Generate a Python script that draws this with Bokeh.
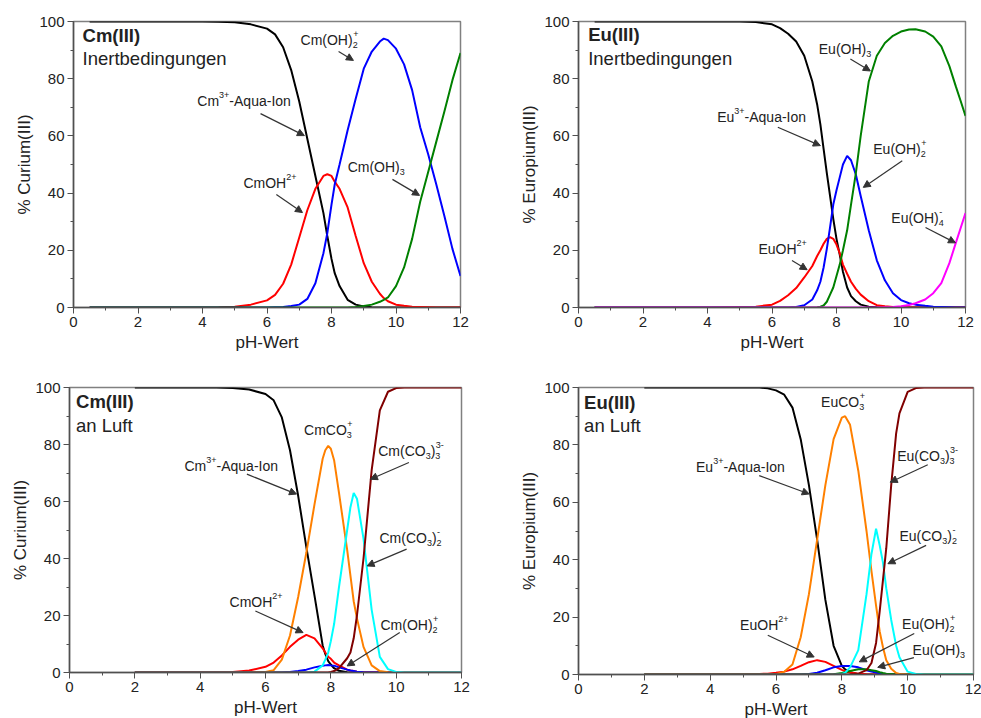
from bokeh.plotting import figure
from bokeh.layouts import column, row
from bokeh.models import Label, Arrow, NormalHead, SingleIntervalTicker
from bokeh.embed import file_html
from bokeh.resources import INLINE

FONT = "Liberation Sans"

# ---------------- data ----------------
# Panel 1: Cm(III), Inertbedingungen
ph_cm_inert = [0.5, 1, 2, 3, 4, 4.5, 5, 5.5, 6, 6.25, 6.5, 6.75, 7, 7.25, 7.5, 7.75, 7.87, 8, 8.1, 8.25,
               8.5, 8.75, 9, 9.25, 9.5, 9.62, 9.75, 10, 10.25, 10.5, 10.75, 11, 11.25, 11.5, 11.75, 12]
cm_inert_aqua = [100, 100, 100, 100, 100, 99.9, 99.7, 99, 97.5, 95.5, 91, 83, 72, 59, 46, 33, 25, 17, 12, 7.5,
                 2.7, 1, 0.4, 0.1, 0, 0, 0, 0, 0, 0, 0, 0, 0, 0, 0, 0]
cm_inert_oh = [0, 0, 0, 0, 0, 0.1, 0.3, 1, 2.5, 4.4, 8.3, 15, 24.5, 34, 41.5, 46, 46.6, 46, 44, 41.5,
               35, 25, 15.5, 9, 4.8, 3.3, 2.2, 1, 0.6, 0.3, 0.2, 0.1, 0, 0, 0, 0]
cm_inert_oh2 = [0, 0, 0, 0, 0, 0, 0, 0, 0, 0.1, 0.2, 0.5, 1, 3, 8.5, 19, 26, 36, 43, 50,
                62, 73, 83.5, 89.5, 93, 94, 93.5, 90.5, 85, 76, 63, 53.5, 43, 32, 20.5, 11]
cm_inert_oh3 = [0, 0, 0, 0, 0, 0, 0, 0, 0, 0, 0, 0, 0, 0, 0, 0, 0, 0, 0, 0,
                0, 0.2, 0.5, 1, 2, 2.7, 3.5, 7.5, 14, 24, 37, 47.5, 58, 68.5, 79.5, 89]

# Panel 2: Eu(III), Inertbedingungen
ph_eu_inert = [0.5, 1, 2, 3, 4, 5, 5.5, 6, 6.25, 6.5, 6.75, 7, 7.25, 7.4, 7.5, 7.6, 7.7, 7.8, 7.9, 8,
               8.1, 8.2, 8.33, 8.45, 8.6, 8.75, 9, 9.25, 9.5, 9.75, 10, 10.25, 10.45, 10.75, 11, 11.25,
               11.5, 11.7, 11.85, 12]
eu_inert_aqua = [100, 100, 100, 100, 100, 100, 99.8, 99, 97.7, 95.7, 93, 88, 79, 71, 64, 55.5, 47, 39, 31, 24,
                 18.5, 12.5, 7, 4, 2.2, 1, 0.3, 0.1, 0, 0, 0, 0, 0, 0, 0, 0,
                 0, 0, 0, 0]
eu_inert_oh = [0, 0, 0, 0, 0, 0.2, 0.3, 1, 2.3, 4.3, 6.8, 10.5, 14.5, 18, 20, 22.3, 24, 24.6, 24, 22,
               19, 15, 11.8, 9, 6.5, 4.5, 2.2, 0.8, 0.4, 0.2, 0.1, 0, 0, 0, 0, 0,
               0, 0, 0, 0]
eu_inert_oh2 = [0, 0, 0, 0, 0, 0, 0, 0, 0, 0, 0.2, 0.8, 2.8, 6, 9, 14, 20.5, 28, 36, 41,
                45.5, 50, 53, 51.5, 46.5, 39, 27, 16.5, 9.5, 5, 2.6, 1.5, 1, 0.6, 0.3, 0.2,
                0.1, 0, 0, 0]
eu_inert_oh3 = [0, 0, 0, 0, 0, 0, 0, 0, 0, 0, 0, 0, 0, 0.1, 0.3, 0.7, 2, 4.5, 7, 11,
                15, 20, 27, 36, 47, 60, 79, 88, 92.5, 95, 96.5, 97.2, 97.3, 96.5, 94.7, 91.3,
                84.4, 77.3, 72.2, 67]
eu_inert_oh4 = [0, 0, 0, 0, 0, 0, 0, 0, 0, 0, 0, 0, 0, 0, 0, 0, 0, 0, 0, 0,
                0, 0, 0, 0, 0, 0, 0, 0, 0.1, 0.2, 0.4, 0.9, 1.5, 2.8, 5, 8.5,
                15.5, 22.6, 27.8, 33]

# Panel 3: Cm(III), an Luft
ph_cm_air = [2, 3, 4, 4.5, 5, 5.5, 6, 6.25, 6.5, 6.75, 7, 7.25, 7.5, 7.75, 7.83, 7.92, 8, 8.1, 8.25, 8.5,
             8.6, 8.7, 8.8, 9, 9.25, 9.5, 9.75, 10, 10.25, 10.5, 11, 12]
cm_air_aqua = [100, 100, 100, 100, 99.8, 99.3, 97.7, 95.5, 89.5, 78, 62, 44, 27, 9.5, 6.5, 4, 2.8, 1.5, 0.6, 0.1,
               0, 0, 0, 0, 0, 0, 0, 0, 0, 0, 0, 0]
cm_air_oh = [0, 0, 0, 0.1, 0.2, 0.7, 2, 3.5, 6, 9, 11.5, 13.2, 12, 8.5, 7, 5.5, 4.8, 3.5, 2.5, 1,
             0.7, 0.5, 0.3, 0.1, 0, 0, 0, 0, 0, 0, 0, 0]
cm_air_co3 = [0, 0, 0, 0, 0, 0, 0.2, 0.8, 4.5, 13, 26.5, 42, 59, 75, 78, 79.5, 78.5, 74.5, 63, 43,
              34, 25, 19, 9, 2.5, 0.5, 0.1, 0, 0, 0, 0, 0]
cm_air_oh2 = [0, 0, 0, 0, 0, 0, 0, 0, 0, 0.2, 0.5, 1, 1.8, 2.4, 2.5, 2.6, 2.5, 2.4, 1.8, 1,
              0.7, 0.5, 0.3, 0.1, 0, 0, 0, 0, 0, 0, 0, 0]
cm_air_co3_2 = [0, 0, 0, 0, 0, 0, 0, 0, 0, 0, 0, 0, 0.3, 2.5, 4.5, 7, 11, 17, 30, 50,
                58, 63, 61, 47, 22, 5.5, 1.2, 0.2, 0, 0, 0, 0]
cm_air_co3_3 = [0, 0, 0, 0, 0, 0, 0, 0, 0, 0, 0, 0, 0, 0, 0, 0, 0.2, 0.5, 1.5, 5,
                7, 12, 20, 40, 71, 92, 98.5, 99.8, 100, 100, 100, 100]

# Panel 4: Eu(III), an Luft
ph_eu_air = [2, 3, 4, 5, 5.5, 5.75, 6, 6.25, 6.5, 6.75, 7, 7.25, 7.5, 7.75, 8, 8.1, 8.25, 8.5, 8.75, 8.9,
             9.04, 9.15, 9.25, 9.35, 9.5, 9.65, 9.75, 10, 10.25, 10.5, 11, 12]
eu_air_aqua = [100, 100, 100, 100, 100, 99.7, 99, 97.5, 93, 82, 66, 47, 26, 10, 3, 1.8, 0.8, 0.2, 0, 0,
               0, 0, 0, 0, 0, 0, 0, 0, 0, 0, 0, 0]
eu_air_oh = [0, 0, 0, 0, 0.2, 0.3, 0.6, 1, 1.8, 3, 4.3, 5, 4.4, 3, 1.6, 1.2, 0.7, 0.3, 0.1, 0,
             0, 0, 0, 0, 0, 0, 0, 0, 0, 0, 0, 0]
eu_air_co3 = [0, 0, 0, 0, 0, 0, 0.1, 1, 3.5, 13, 28, 47, 66, 82, 89.5, 90, 87, 71, 50, 36,
              24, 15, 9.5, 5, 2, 0.5, 0.2, 0, 0, 0, 0, 0]
eu_air_oh2 = [0, 0, 0, 0, 0, 0, 0, 0, 0, 0, 0.2, 0.6, 1.5, 2.5, 3, 3, 3, 2.5, 1.5, 1,
              0.7, 0.4, 0.2, 0.1, 0, 0, 0, 0, 0, 0, 0, 0]
eu_air_oh3 = [0, 0, 0, 0, 0, 0, 0, 0, 0, 0, 0, 0, 0, 0.1, 0.5, 0.8, 1.2, 1.8, 1.8, 1.5,
              1.2, 0.8, 0.5, 0.3, 0.2, 0.1, 0, 0, 0, 0, 0, 0]
eu_air_co3_2 = [0, 0, 0, 0, 0, 0, 0, 0, 0, 0, 0, 0, 0, 0, 0.2, 0.6, 2.5, 8.5, 28, 42,
                50.8, 45, 39, 30, 19, 10, 6, 1, 0.2, 0, 0, 0]
eu_air_co3_3 = [0, 0, 0, 0, 0, 0, 0, 0, 0, 0, 0, 0, 0, 0, 0, 0, 0, 0.3, 1.5, 4,
                11, 22, 33, 44, 66, 84, 91, 98.5, 99.8, 100, 100, 100]

x_ticks_interval = 2
y_ticks_interval = 20

COL = {"aqua": "#000000", "oh": "#ff0000", "oh2": "#0000ff", "oh3": "#008000", "oh4": "#ff00ff",
       "co3": "#ff8000", "co3_2": "#00ffff", "co3_3": "#800000"}

# Arial / Liberation Sans advance widths (1/1000 em)
W = {" ": 278, "(": 333, ")": 333, "+": 584, "-": 333, "A": 667, "C": 722, "E": 667, "H": 722,
     "I": 278, "L": 556, "O": 778, "a": 556, "i": 222, "m": 833, "n": 556, "o": 556, "q": 556,
     "u": 556, "r": 333, "t": 278, "f": 278}


def tw(s, size):
    return sum(W.get(c, 556) for c in s) * size / 1000.0


TXT = "#222222"


def lab(p, x, y, text, size, off=0.0, yoff=0.0, bold=False):
    p.add_layout(Label(x=x, y=y, x_offset=off, y_offset=yoff, text=text, text_font=FONT,
                       text_font_size=f"{size}px", text_color=TXT, text_baseline="middle",
                       text_align="left", text_font_style="bold" if bold else "normal"))


def rich(p, x, y, parts, size=14):
    small = 9
    off = 0.0
    for part in parts:
        kind = part[0]
        if kind == "n":
            lab(p, x, y, part[1], size, off)
            off += tw(part[1], size)
        elif kind == "sup":
            lab(p, x, y, part[1], small, off, 6)
            off += tw(part[1], small)
        elif kind == "sub":
            lab(p, x, y, part[1], small, off, -5)
            off += tw(part[1], small)
        elif kind == "ss":
            lab(p, x, y, part[1], small, off, -5)
            lab(p, x, y, part[2], small, off + 0.5, 6)
            off += max(tw(part[1], small), tw(part[2], small))


def arrow(p, xs, ys, xe, ye):
    p.add_layout(Arrow(end=NormalHead(size=7, line_color="#333333", fill_color="#333333", line_width=1),
                       x_start=xs, y_start=ys, x_end=xe, y_end=ye,
                       line_color="#333333", line_width=1.2))


def make_fig(ylabel, fw, fh, bl, br, bt, bb):
    p = figure(frame_width=fw, frame_height=fh, min_border_left=bl, min_border_right=br,
               min_border_top=bt, min_border_bottom=bb, x_range=(0, 12), y_range=(0, 100),
               output_backend="svg", toolbar_location=None)
    p.grid.visible = False
    p.outline_line_color = "#808080"
    p.outline_line_width = 1.5
    p.xaxis.ticker = SingleIntervalTicker(interval=x_ticks_interval, num_minor_ticks=2)
    p.yaxis.ticker = SingleIntervalTicker(interval=y_ticks_interval, num_minor_ticks=2)
    for ax in (p.xaxis, p.yaxis):
        ax.axis_line_color = "#505050"
        ax.axis_line_width = 1.5
        ax.major_tick_line_color = "#505050"
        ax.minor_tick_line_color = "#505050"
        ax.major_tick_in = 0
        ax.major_tick_out = 6
        ax.minor_tick_in = 0
        ax.minor_tick_out = 3
        ax.major_label_text_font = FONT
        ax.major_label_text_font_size = "15px"
        ax.major_label_text_color = TXT
        ax.major_label_standoff = 3
        ax.axis_label_text_font = FONT
        ax.axis_label_text_font_size = "17px"
        ax.axis_label_text_font_style = "normal"
        ax.axis_label_text_color = TXT
    p.xaxis.axis_label = "pH-Wert"
    p.xaxis.axis_label_standoff = 3
    p.yaxis.axis_label = ylabel
    p.yaxis.axis_label_standoff = 2
    return p


def curves(p, x, series):
    for ys, c in series:
        p.line(x, ys, line_color=c, line_width=2)


TS = 18.5  # title size

# ---------------- panel 1 ----------------
p1 = make_fig("% Curium(III)", 387, 286, 73, 30, 20, 53)
curves(p1, ph_cm_inert, [(cm_inert_aqua, COL["aqua"]), (cm_inert_oh, COL["oh"]),
                         (cm_inert_oh2, COL["oh2"]), (cm_inert_oh3, COL["oh3"])])
lab(p1, 0.28, 95.1, "Cm(III)", TS, bold=True)
lab(p1, 0.28, 87.0, "Inertbedingungen", TS)
rich(p1, 7.04, 93.7, [("n", "Cm(OH)"), ("ss", "2", "+")])
arrow(p1, 8.22, 89.5, 8.68, 86.4)
rich(p1, 3.84, 72.3, [("n", "Cm"), ("sup", "3+"), ("n", "-Aqua-Ion")])
arrow(p1, 5.8, 67.8, 7.16, 60.1)
rich(p1, 5.27, 43.4, [("n", "CmOH"), ("sup", "2+")])
arrow(p1, 6.29, 39.5, 7.1, 33.2)
rich(p1, 8.5, 49.0, [("n", "Cm(OH)"), ("sub", "3")])
arrow(p1, 9.89, 44.8, 10.73, 39.2)

# ---------------- panel 2 ----------------
p2 = make_fig("% Europium(III)", 387, 286, 88, 16, 21, 52)
curves(p2, ph_eu_inert, [(eu_inert_aqua, COL["aqua"]), (eu_inert_oh, COL["oh"]),
                         (eu_inert_oh2, COL["oh2"]), (eu_inert_oh3, COL["oh3"]),
                         (eu_inert_oh4, COL["oh4"])])
lab(p2, 0.3, 95.4, "Eu(III)", TS, bold=True)
lab(p2, 0.3, 87.2, "Inertbedingungen", TS)
rich(p2, 7.45, 90.5, [("n", "Eu(OH)"), ("sub", "3")])
arrow(p2, 8.43, 86.9, 9.05, 82.7)
rich(p2, 4.3, 66.7, [("n", "Eu"), ("sup", "3+"), ("n", "-Aqua-Ion")])
arrow(p2, 6.18, 63.0, 7.5, 56.6)
rich(p2, 9.14, 55.5, [("n", "Eu(OH)"), ("ss", "2", "+")])
arrow(p2, 10.04, 51.3, 8.83, 42.0)
rich(p2, 5.58, 20.6, [("n", "EuOH"), ("sup", "2+")])
arrow(p2, 6.62, 16.4, 7.09, 13.2)
rich(p2, 9.7, 31.4, [("n", "Eu(OH)"), ("ss", "4", "-")])
arrow(p2, 10.76, 28.0, 11.69, 22.6)

# ---------------- panel 3 ----------------
p3 = make_fig("% Curium(III)", 392, 285, 69, 29, 28, 46)
curves(p3, ph_cm_air, [(cm_air_aqua, COL["aqua"]), (cm_air_oh, COL["oh"]), (cm_air_oh2, COL["oh2"]),
                       (cm_air_co3, COL["co3"]), (cm_air_co3_2, COL["co3_2"]),
                       (cm_air_co3_3, COL["co3_3"])])
lab(p3, 0.2, 95.0, "Cm(III)", TS, bold=True)
lab(p3, 0.2, 86.5, "an Luft", TS)
rich(p3, 7.18, 85.0, [("n", "CmCO"), ("ss", "3", "+")])
rich(p3, 3.52, 72.3, [("n", "Cm"), ("sup", "3+"), ("n", "-Aqua-Ion")])
arrow(p3, 5.43, 69.6, 6.95, 62.6)
rich(p3, 9.45, 77.8, [("n", "Cm(CO"), ("sub", "3"), ("n", ")"), ("ss", "3", "3-")])
arrow(p3, 10.39, 73.7, 9.21, 67.8)
rich(p3, 9.49, 47.1, [("n", "Cm(CO"), ("sub", "3"), ("n", ")"), ("ss", "2", "-")])
arrow(p3, 10.32, 43.3, 9.11, 37.4)
rich(p3, 4.9, 24.9, [("n", "CmOH"), ("sup", "2+")])
arrow(p3, 5.69, 21.6, 7.15, 14.0)
rich(p3, 9.52, 16.7, [("n", "Cm(OH)"), ("ss", "2", "+")])
arrow(p3, 10.11, 14.0, 8.5, 2.3)

# ---------------- panel 4 ----------------
p4 = make_fig("% Europium(III)", 395, 287, 88, 8, 27, 45)
curves(p4, ph_eu_air, [(eu_air_aqua, COL["aqua"]), (eu_air_oh, COL["oh"]), (eu_air_oh2, COL["oh2"]),
                       (eu_air_oh3, COL["oh3"]), (eu_air_co3, COL["co3"]),
                       (eu_air_co3_2, COL["co3_2"]), (eu_air_co3_3, COL["co3_3"])])
lab(p4, 0.17, 94.8, "Eu(III)", TS, bold=True)
lab(p4, 0.17, 86.9, "an Luft", TS)
rich(p4, 7.37, 94.8, [("n", "EuCO"), ("ss", "3", "+")])
rich(p4, 3.57, 72.2, [("n", "Eu"), ("sup", "3+"), ("n", "-Aqua-Ion")])
arrow(p4, 5.49, 69.3, 7.01, 62.9)
rich(p4, 9.68, 76.3, [("n", "Eu(CO"), ("sub", "3"), ("n", ")"), ("ss", "3", "3-")])
arrow(p4, 10.61, 73.1, 9.47, 67.0)
rich(p4, 9.75, 48.4, [("n", "Eu(CO"), ("sub", "3"), ("n", ")"), ("ss", "2", "-")])
arrow(p4, 10.56, 45.0, 9.4, 38.6)
rich(p4, 4.91, 17.1, [("n", "EuOH"), ("sup", "2+")])
arrow(p4, 5.75, 13.7, 7.16, 6.1)
rich(p4, 9.83, 17.7, [("n", "Eu(OH)"), ("ss", "2", "+")])
arrow(p4, 10.2, 14.3, 8.53, 4.4)
rich(p4, 10.15, 8.4, [("n", "Eu(OH)"), ("sub", "3")])
arrow(p4, 10.19, 5.9, 9.09, 2.5)

layout = column(row(p1, p2), row(p3, p4))
open("out.html", "w").write(file_html(layout, INLINE, title="Speziation Cm(III) / Eu(III)"))
